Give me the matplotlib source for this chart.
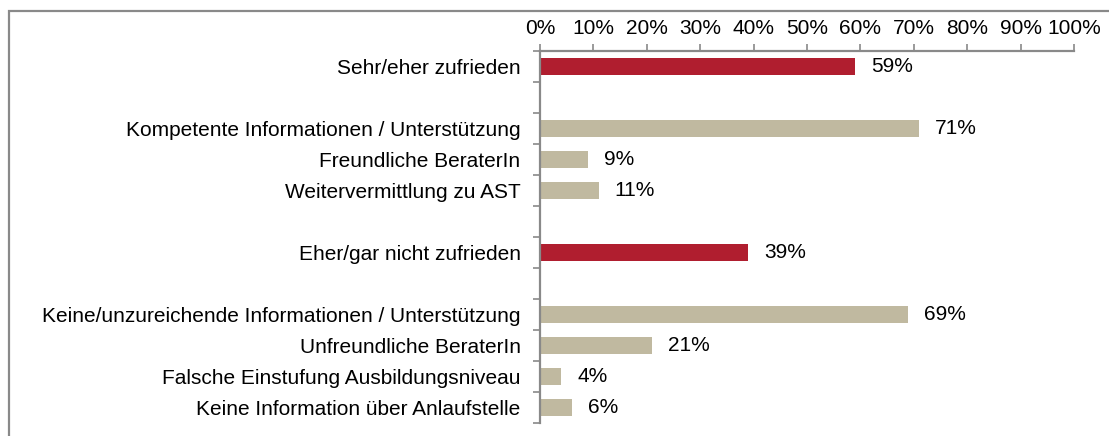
import matplotlib
matplotlib.use("Agg")
import matplotlib.pyplot as plt
from matplotlib.patches import Rectangle

# Kategorien von oben nach unten ("" = Leerzeile)
kategorien = ["Sehr/eher zufrieden", "",
              "Kompetente Informationen / Unterstützung",
              "Freundliche BeraterIn",
              "Weitervermittlung zu AST", "",
              "Eher/gar nicht zufrieden", "",
              "Keine/unzureichende Informationen / Unterstützung",
              "Unfreundliche BeraterIn",
              "Falsche Einstufung Ausbildungsniveau",
              "Keine Information über Anlaufstelle"]
werte = [59, None, 71, 9, 11, None, 39, None, 69, 21, 4, 6]
haupt = [True, False, False, False, False, False, True, False, False, False, False, False]

rot = "#B01E2F"
beige = "#C0B9A0"
grau = "#898989"

plt.rcParams['font.family'] = ['Liberation Sans', 'DejaVu Sans']
fs = 15

fig = plt.figure(figsize=(11.09, 4.36), dpi=100)
ax = fig.add_axes([540/1109, 1 - 423/436, 534/1109, 372.3/436])

n = len(kategorien)
for i, (w, h) in enumerate(zip(werte, haupt)):
    if w is None:
        continue
    ax.barh(i, w, height=0.54, color=rot if h else beige)
    ax.text(w + 3.0, i, f"{w}%", va="center", ha="left", fontsize=fs)

ax.set_ylim(n - 0.5, -0.5)
ax.set_xlim(0, 100)
ax.set_yticks(range(n))
ax.set_yticklabels(kategorien, fontsize=fs)
ax.set_yticks([i - 0.5 for i in range(n + 1)], minor=True)
ax.tick_params(axis="y", which="major", length=0, pad=14)
ax.tick_params(axis="y", which="minor", length=5, color=grau, width=1.2)

ax.xaxis.tick_top()
ax.set_xticks(range(0, 101, 10))
ax.set_xticklabels([f"{x}%" for x in range(0, 101, 10)], fontsize=fs)
ax.tick_params(axis="x", length=5, color=grau, width=1.2, pad=4.5)

for s in ["right", "bottom"]:
    ax.spines[s].set_visible(False)
for s in ["top", "left"]:
    ax.spines[s].set_color(grau)
    ax.spines[s].set_linewidth(1.6)

# Rahmen um das Diagramm
fig.patches.append(Rectangle((9/1109, -0.1), 1.1, 1.1 - 11/436, transform=fig.transFigure,
                             fill=False, edgecolor=grau, linewidth=1.6))

fig.savefig("out.png", dpi=100)
